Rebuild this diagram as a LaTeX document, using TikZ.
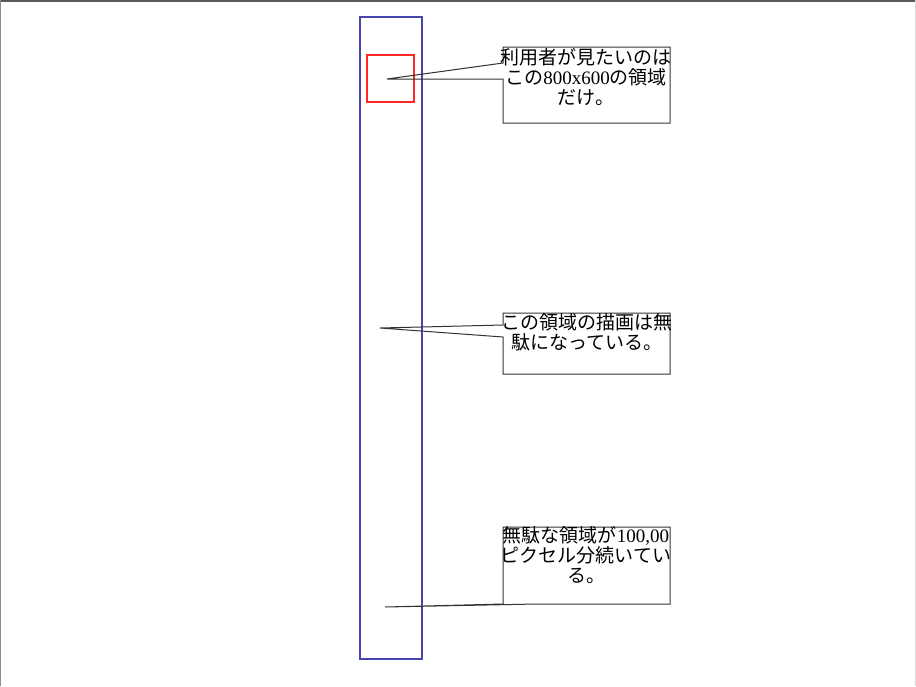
\documentclass[tikz,border=0pt]{standalone}
\usepackage{fontspec}
\setmainfont{Liberation Serif}
\newfontfamily\cjk{Noto Sans CJK JP}
\usetikzlibrary{calc, positioning}
\definecolor{pageblue}{rgb}{0.27,0.27,0.68}

\begin{document}
\begin{tikzpicture}[x=1pt, y=-1pt,
  callout/.style={draw=black!80, line width=1pt, line join=miter},
  note/.style={font=\fontsize{19}{20}\selectfont, align=center, inner sep=0pt, anchor=north}]
  \useasboundingbox (0,0) rectangle (916,686);

  % window frame
  \draw[black!65, line width=2pt] (0,1) -- (916,1);
  \draw[black!45, line width=1pt] (0.5,0) -- (0.5,686);
  \draw[black!15, line width=1pt] (915.5,0) -- (915.5,686);

  % whole page and visible area
  \draw[pageblue, line width=1.2pt] (360,17) rectangle (422,659);
  \draw[red!85, line width=1.2pt] (367,55) rectangle (414,102);

  % first callout
  \coordinate (tipA) at (387,79);
  \draw[callout] (503,63) -- (tipA) -- (503,79) -- (503,123) -- (670,123) -- (670,47) -- (503,47) -- cycle;
  \node[note] (noteA) at (586,48) {{\cjk 利用者が見たいのは}\\{\cjk この}800x600{\cjk の領域}\\{\cjk だけ。}};

  % second callout
  \coordinate (tipB) at (380,328);
  \draw[callout] (503,325) -- (tipB) -- (503,337) -- (503,374) -- (670,374) -- (670,313) -- (503,313) -- cycle;
  \node[note] (noteB) at (587,313) {{\cjk この領域の描画は無}\\{\cjk 駄になっている。}};

  % third callout
  \coordinate (tipC) at (385,607);
  \draw[callout] (537,604) -- (tipC) -- (503,604) -- (503,527) -- (670,527) -- (670,604) -- cycle;
  \node[note] (noteC) at (586,526) {{\cjk 無駄な領域が}100,00\\{\cjk ピクセル分続いてい}\\{\cjk る。}};
\end{tikzpicture}
\end{document}
